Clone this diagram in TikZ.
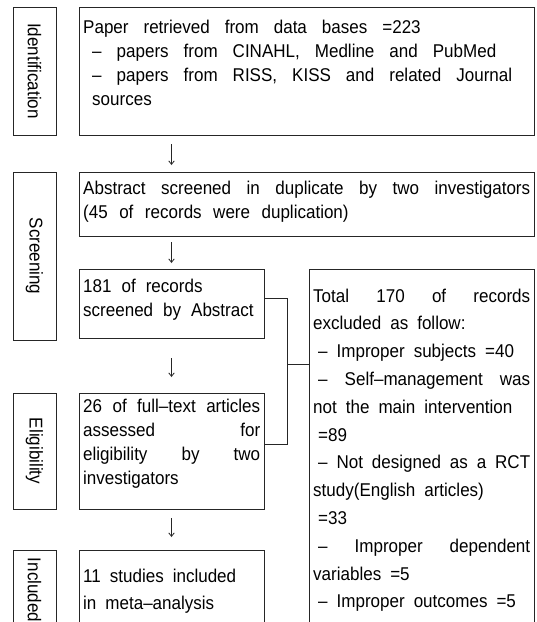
\documentclass[tikz,border=0pt]{standalone}
\usepackage{fontspec}
\setmainfont{Liberation Sans}[FakeStretch=0.92]
\usetikzlibrary{arrows.meta,calc}
\newcommand{\sline}[1]{\makebox[\linewidth][s]{#1}}
\newcommand{\wsp}[1]{\spaceskip=#1 plus 200pt minus 2pt\relax}
\begin{document}
\begin{tikzpicture}[x=1pt,y=-1pt,
  frame/.style={draw=black!85, line width=0.9pt, anchor=north west, inner sep=0pt, outer sep=0pt},
  stage/.style={draw=black!85, line width=0.9pt, inner sep=0pt, outer sep=0pt, rotate=-90,
    minimum height=43pt, font=\fontsize{18.5}{24}\selectfont},
  wordgap/.style={execute at begin node={\wsp{#1}}},
  txt/.style={anchor=north west, inner sep=0pt, align=left,
    font=\fontsize{18.5}{24}\selectfont, wordgap=9pt},
  txtloose/.style={txt, font=\fontsize{18.5}{27.8}\selectfont},
  link/.style={draw=black!85, line width=0.9pt},
  arr/.style={draw=black!85, line width=0.8pt, -{Straight Barb[length=3.5pt,width=5.5pt]}}]
\useasboundingbox (0,0) rectangle (537,622);
\clip (0,0) rectangle (537,622);
% stage labels
\node[stage, minimum width=128pt] (sid) at (34.5,71) {Identification};
\node[stage, minimum width=168pt] (sscr) at (34.5,256) {Screening};
\node[stage, minimum width=116pt] (seli) at (34.5,451) {Eligibility};
\node[stage, minimum width=80pt] (sinc) at (34.5,590) {Included};
% boxes
\node[frame, minimum width=455pt, minimum height=128pt] (b1) at (79,7) {};
\node[frame, minimum width=455pt, minimum height=64pt] (b2) at (79,172) {};
\node[frame, minimum width=185pt, minimum height=69pt] (b181) at (79,269) {};
\node[frame, minimum width=185pt, minimum height=116pt] (b26) at (79,393) {};
\node[frame, minimum width=185pt, minimum height=100pt] (b11) at (79,550) {};
\node[frame, minimum width=225pt, minimum height=380pt] (excl) at (309,269) {};
% texts
\node[txt, wordgap=15pt, text width=447pt] (t1) at ($(b1.north west)+(4,9.2)$) {\strut Paper retrieved from data bases =223\\
\hspace*{9pt}– papers from CINAHL, Medline and PubMed\\
\hspace*{9pt}– papers from RISS, KISS and related Journal\\
\hspace*{9pt}sources};
\node[txt, wordgap=11.5pt, text width=447pt] (t2) at ($(b2.north west)+(4,5.2)$) {\strut\sline{Abstract screened in duplicate by two investigators}\\
(45 of records were duplication)};
\node[txt, wordgap=10pt, text width=177pt] (t181) at ($(b181.north west)+(4,6.2)$) {\strut 181 of records\\ screened by Abstract};
\node[txt, text width=177pt] (t26) at ($(b26.north west)+(4,2.2)$) {\strut\sline{26 of full–text articles}\\
\sline{assessed for}\\ \sline{eligibility by two}\\ investigators};
\node[txtloose, text width=177pt] (t11) at ($(b11.north west)+(4,12.5)$) {\strut 11 studies included\\ in meta–analysis};
\node[txtloose, text width=217pt] (tex) at ($(excl.north west)+(4,13.5)$) {\strut\sline{Total 170 of records}\\
excluded as follow:\\
\hspace*{5pt}– Improper subjects =40\\
\sline{\hspace*{5pt}– Self–management was}\\
not the main intervention\\
\hspace*{5pt}=89\\
\hspace*{5pt}– Not designed as a RCT\\
study(English articles)\\
\hspace*{5pt}=33\\
\sline{\hspace*{5pt}– Improper dependent}\\
variables =5\\
\hspace*{5pt}– Improper outcomes =5};
% connectors
\coordinate (j1) at (287,298);
\coordinate (j2) at (287,444);
\coordinate (jm) at (287,364);
\draw[link] (b181.east |- j1) -- (j1) -- (j2) -- (b26.east |- j2);
\draw[link] (jm) -- (excl.west |- jm);
% arrows
\draw[arr, shorten <=9pt, shorten >=7pt] (b181.south |- b1.south) -- (b181.south |- b2.north);
\draw[arr, shorten <=6pt, shorten >=6pt] (b2.south -| b181.south) -- (b181.north);
\draw[arr, shorten <=20pt, shorten >=16pt] (b181.south) -- (b26.north);
\draw[arr, shorten <=9pt, shorten >=13pt] (b26.south) -- (b11.north);
\end{tikzpicture}
\end{document}
